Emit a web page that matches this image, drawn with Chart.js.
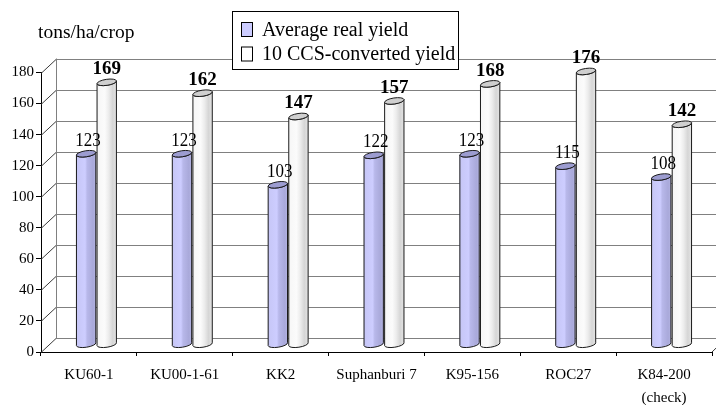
<!DOCTYPE html>
<html>
<head>
<meta charset="utf-8">
<script src="https://cdn.jsdelivr.net/npm/chart.js@4.4.1/dist/chart.umd.min.js"></script>
<style>
  html, body { margin: 0; padding: 0; background: #fff; }
  #wrap { width: 716px; height: 405px; }
</style>
</head>
<body>
<div id="wrap"><canvas id="yieldChart" width="716" height="405"></canvas></div>
<script>
const VARIETIES = ['KU60-1', 'KU00-1-61', 'KK2', 'Suphanburi 7', 'K95-156', 'ROC27', ['K84-200', '(check)']];
const REAL_YIELD = [123, 123, 103, 122, 123, 115, 108];
const CCS_YIELD = [169, 162, 147, 157, 168, 176, 142];
const Y_TICKS = [0, 20, 40, 60, 80, 100, 120, 140, 160, 180];
const SERIES_NAMES = ['Average real yield', '10 CCS-converted yield'];
const UNIT_LABEL = 'tons/ha/crop';

const SERIF = "'Liberation Serif', 'Times New Roman', serif";
// depth of the 3D box (back wall offset from the front axes)
const DEPTH_X = 15;
const DEPTH_Y = 14.5;

const CYL_STYLE = [
  {
    stops: [[0, '#c6c6f6'], [0.45, '#cdcdff'], [0.55, '#b8b8ea'], [0.85, '#a9a9da'], [1, '#b4b4e2']],
    top: '#9c9cd0',
  },
  {
    stops: [[0, '#f6f6f6'], [0.4, '#fbfbfb'], [0.6, '#ececec'], [0.8, '#d6d6d6'], [1, '#e4e4e4']],
    top: '#cfcfcf',
  },
];

function drawCylinder(ctx, x, top, base, w, style) {
  const rx = w / 2, ry = 3, rot = -0.15;
  const g = ctx.createLinearGradient(x - rx, 0, x + rx, 0);
  style.stops.forEach(([o, c]) => g.addColorStop(o, c));
  ctx.beginPath();
  ctx.ellipse(x, base, rx, ry, rot, Math.PI, 0, true);
  ctx.ellipse(x, top, rx, ry, rot, 0, Math.PI, false);
  ctx.closePath();
  ctx.fillStyle = g;
  ctx.fill();
  ctx.stroke();
  ctx.beginPath();
  ctx.ellipse(x, top, rx, ry, rot, 0, Math.PI * 2);
  ctx.fillStyle = style.top;
  ctx.fill();
  ctx.stroke();
}

// the source picture has slightly tall, narrow lettering
function tallText(ctx, text, x, y, sy) {
  ctx.save();
  ctx.translate(x, y);
  ctx.scale(1, sy);
  ctx.fillText(text, 0, 0);
  ctx.restore();
}

const box3d = {
  id: 'box3d',
  beforeDatasetsDraw(chart) {
    const { ctx, chartArea: a, scales: { y } } = chart;
    ctx.save();
    ctx.lineWidth = 1;
    const bx = a.left + DEPTH_X;
    // back wall grid lines + side wall diagonals
    Y_TICKS.forEach(v => {
      const yf = Math.round(y.getPixelForValue(v)) + 0.5;
      const yb = Math.round(yf - DEPTH_Y) + 0.5;
      ctx.strokeStyle = '#808080';
      ctx.beginPath();
      ctx.moveTo(bx, yb);
      ctx.lineTo(chart.width, yb);
      ctx.stroke();
      ctx.strokeStyle = '#3a3a3a';
      ctx.beginPath();
      ctx.moveTo(a.left, yf);
      ctx.lineTo(bx, yb);
      ctx.stroke();
    });
    // back-left vertical edge
    const yTop = Math.round(y.getPixelForValue(180) - DEPTH_Y) + 0.5;
    const yBot = Math.round(y.getPixelForValue(0) - DEPTH_Y) + 0.5;
    ctx.strokeStyle = '#808080';
    ctx.beginPath();
    ctx.moveTo(bx + 0.5, yTop);
    ctx.lineTo(bx + 0.5, yBot);
    ctx.stroke();
    // right floor edge
    ctx.strokeStyle = '#3a3a3a';
    ctx.beginPath();
    ctx.moveTo(a.right, a.bottom);
    ctx.lineTo(a.right + DEPTH_X, a.bottom - DEPTH_Y);
    ctx.stroke();
    ctx.restore();

    // bars sit half way into the box
    ctx.save();
    ctx.translate(DEPTH_X / 2, -DEPTH_Y / 2);
  },
  afterDatasetsDraw(chart) {
    const { ctx } = chart;
    ctx.strokeStyle = '#1a1a1a';
    ctx.lineWidth = 1;
    chart.data.datasets.forEach((ds, i) => {
      const meta = chart.getDatasetMeta(i);
      meta.data.forEach(bar => {
        drawCylinder(ctx, bar.x, bar.y, bar.base, bar.width, CYL_STYLE[i]);
      });
    });
    ctx.fillStyle = '#000';
    ctx.textAlign = 'center';
    ctx.textBaseline = 'alphabetic';
    chart.data.datasets.forEach((ds, i) => {
      const meta = chart.getDatasetMeta(i);
      ctx.font = (i === 1 ? 'bold 19px ' : '17px ') + SERIF;
      meta.data.forEach((bar, j) => {
        if (i === 0) tallText(ctx, String(ds.data[j]), bar.x + 2, bar.y - 8, 1.15);
        else ctx.fillText(String(ds.data[j]), bar.x, bar.y - 8);
      });
    });
    ctx.restore();
  },
  afterDraw(chart) {
    const { ctx } = chart;
    ctx.save();
    // unit label
    ctx.fillStyle = '#000';
    ctx.font = '19.5px ' + SERIF;
    ctx.textAlign = 'left';
    ctx.textBaseline = 'middle';
    ctx.fillText(UNIT_LABEL, 38, 33);
    // legend
    ctx.fillStyle = '#fff';
    ctx.fillRect(232.5, 11.5, 226, 58);
    ctx.strokeStyle = '#000';
    ctx.lineWidth = 1;
    ctx.strokeRect(232.5, 11.5, 226, 58);
    ctx.font = '20px ' + SERIF;
    chart.data.datasets.forEach((ds, i) => {
      const sy = 22.5 + i * 24.5;
      ctx.fillStyle = ds.backgroundColor;
      ctx.fillRect(241.5, sy, 11, 14);
      ctx.strokeRect(241.5, sy, 11, 14);
      ctx.fillStyle = '#000';
      ctx.fillText(ds.label, 262, 31 + i * 23.5);
    });
    ctx.restore();
  },
};

new Chart(document.getElementById('yieldChart'), {
  type: 'bar',
  data: {
    labels: VARIETIES,
    datasets: [
      { label: SERIES_NAMES[0], data: REAL_YIELD, backgroundColor: '#ccccff', borderWidth: 0 },
      { label: SERIES_NAMES[1], data: CCS_YIELD, backgroundColor: '#ffffff', borderWidth: 0 },
    ],
  },
  options: {
    responsive: false,
    animation: false,
    layout: { padding: { left: 0, right: 4, top: 72.5, bottom: 0 } },
    datasets: { bar: { categoryPercentage: 0.43, barPercentage: 0.95 } },
    plugins: { legend: { display: false }, tooltip: { enabled: false } },
    scales: {
      x: {
        grid: { drawOnChartArea: false, tickLength: 4, color: '#000' },
        border: { color: '#000' },
        ticks: { color: '#000', padding: 8, font: { family: SERIF, size: 15, lineHeight: 1.5 } },
        afterFit(scale) { scale.height = 53; },
      },
      y: {
        min: 0,
        max: 180,
        grid: { drawOnChartArea: false, tickLength: 5, color: '#000' },
        border: { color: '#000' },
        ticks: { color: '#000', padding: 2, stepSize: 20, font: { family: SERIF, size: 15 } },
        afterBuildTicks(scale) { scale.ticks = Y_TICKS.map(v => ({ value: v })); },
        afterFit(scale) { scale.width = 41; },
      },
    },
  },
  plugins: [box3d],
});
</script>
</body>
</html>
